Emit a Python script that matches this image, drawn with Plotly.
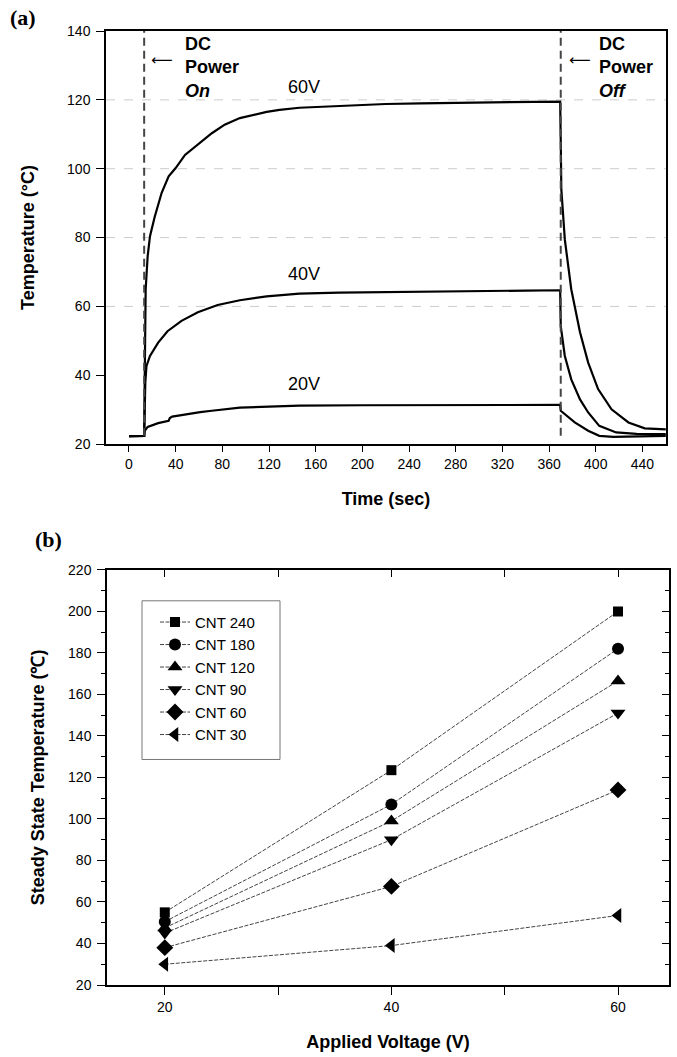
import plotly.graph_objects as go

# ---------------- Panel (a) data: temperature vs time ----------------
t_60 = [0, 5, 10, 13, 13.5, 14.3, 16, 18, 22, 28, 34, 40, 48, 60, 71, 82, 95, 118, 129, 146, 180, 220,
        250, 290, 330, 369.5, 370, 370.5, 373.5, 379, 386.5, 393.5, 402, 413.5, 428, 442, 460]
T_60 = [22.3, 22.4, 22.3, 22.4, 40, 65, 74.6, 80.4, 86, 93, 97.8, 100.2, 104, 107.4, 110.3, 112.8, 114.7,
        116.5, 117.1, 117.7, 118.3, 118.8, 119, 119.2, 119.3, 119.5, 108, 94, 79.4, 65, 52.5, 43.7, 36,
        30.1, 26.3, 24.6, 24.3]

t_40 = [0, 13, 13.5, 14, 15, 18, 25, 33, 45, 59, 76, 95, 118, 146, 180, 220, 260, 300, 340, 369.5,
        370, 373.5, 379, 386.5, 393.5, 403, 417.5, 435, 460]
T_40 = [22.3, 22.4, 30, 38, 42.7, 45.6, 49.5, 52.8, 55.8, 58.3, 60.4, 61.8, 62.9, 63.7, 64, 64.2, 64.3,
        64.4, 64.6, 64.7, 54.3, 45.6, 38.8, 33, 29.2, 25.3, 23.4, 23, 22.9]

t_20 = [0, 13, 13.5, 16, 25, 34, 35, 37, 45, 54, 61, 71, 89, 95, 120, 146, 200, 260, 320, 369.5,
        370, 373.5, 382, 393.5, 403, 415, 440, 460]
T_20 = [22.3, 22.4, 23.9, 25, 26.1, 26.8, 27.6, 28, 28.4, 29, 29.3, 29.7, 30.4, 30.6, 30.9, 31.2, 31.3,
        31.3, 31.3, 31.4, 29.7, 28.7, 26.3, 23.9, 22.4, 22.1, 22.3, 22.4]

curve_labels = ["60V", "40V", "20V"]
label_pos_t = [150, 150, 150]
label_pos_T = [123.8, 69.3, 37.4]

power_times = [13, 370]          # DC power on / off
grid_T = [60, 80, 100, 120]

# ---------------- Panel (b) data: steady state temperature ----------------
voltages = [20, 40, 60]
cnt_names = ["CNT 240", "CNT 180", "CNT 120", "CNT 90", "CNT 60", "CNT 30"]
cnt_240 = [55, 123.5, 200]
cnt_180 = [50.5, 107, 182]
cnt_120 = [47.5, 99, 166.5]
cnt_90 = [45, 90, 151]
cnt_60 = [38, 67.5, 114]
cnt_30 = [30, 39, 53.5]
cnt_values = [cnt_240, cnt_180, cnt_120, cnt_90, cnt_60, cnt_30]
symbols = ["square", "circle", "triangle-up", "triangle-down", "diamond", "triangle-left"]
symbol_sizes = [10, 12, 13, 13, 13, 13]

# ---------------- layout geometry (pixels) ----------------
W, H = 677, 1057
ML, MR, MT, MB = 106, 8, 31, 70
PW = W - ML - MR
PH = H - MT - MB


def px(x):
    return (x - ML) / PW


def py(y):
    return (H - MB - y) / PH


SANS = "Liberation Sans, Arial, sans-serif"
SERIF = "Liberation Serif, Times New Roman, serif"

fig = go.Figure()

for t, T in [(t_60, T_60), (t_40, T_40), (t_20, T_20)]:
    fig.add_trace(go.Scatter(x=t, y=T, mode="lines", line=dict(color="black", width=2.2),
                             showlegend=False, hoverinfo="skip", xaxis="x", yaxis="y"))

for name, vals, sym, sz in zip(cnt_names, cnt_values, symbols, symbol_sizes):
    fig.add_trace(go.Scatter(x=voltages, y=vals, name=name, mode="lines+markers",
                             line=dict(color="#444444", width=1, dash="4px,1.5px"),
                             marker=dict(symbol=sym, size=sz, color="black"),
                             xaxis="x2", yaxis="y2"))

# dummy trace for the mirrored (inside-tick) axes of panel b
fig.add_trace(go.Scatter(x=[None], y=[None], xaxis="x3", yaxis="y3", showlegend=False,
                         hoverinfo="skip"))

shapes = []
for v in grid_T:
    shapes.append(dict(type="line", xref="x domain", yref="y", x0=0, x1=1, y0=v, y1=v,
                       line=dict(color="#cccccc", width=1, dash="dash"), layer="below"))
for pt in power_times:
    shapes.append(dict(type="line", xref="x", yref="y", x0=pt, x1=pt, y0=22.4, y1=140,
                       line=dict(color="#444444", width=2, dash="8px,5px")))
# legend frame
shapes.append(dict(type="rect", xref="paper", yref="paper", x0=px(142), x1=px(280),
                   y0=py(761), y1=py(602), line=dict(color="#777777", width=1),
                   fillcolor="rgba(0,0,0,0)"))

annotations = []
for lab, lt, lT in zip(curve_labels, label_pos_t, label_pos_T):
    annotations.append(dict(x=lt, y=lT, xref="x", yref="y", text=lab, showarrow=False,
                            font=dict(family=SANS, size=18, color="black")))
annotations.append(dict(x=46.3, y=139.6, xref="x", yref="y", xanchor="left", yanchor="top",
                        align="left", showarrow=False,
                        text="<b>DC<br>Power<br><i>On</i></b>",
                        font=dict(family=SANS, size=18, color="black")))
annotations.append(dict(x=401, y=139.6, xref="x", yref="y", xanchor="left", yanchor="top",
                        align="left", showarrow=False,
                        text="<b>DC<br>Power<br><i>Off</i></b>",
                        font=dict(family=SANS, size=18, color="black")))
for at in [28.3, 386.5]:
    annotations.append(dict(x=at, y=131.6, xref="x", yref="y", text="\u27f5", showarrow=False,
                            font=dict(family="DejaVu Sans", size=15, color="black")))
annotations.append(dict(x=px(8), y=py(17), xref="paper", yref="paper", xanchor="left",
                        yanchor="middle", text="<b>(a)</b>", showarrow=False,
                        font=dict(family=SERIF, size=22, color="black")))
annotations.append(dict(x=px(33), y=py(541), xref="paper", yref="paper", xanchor="left",
                        yanchor="middle", text="<b>(b)</b>", showarrow=False,
                        font=dict(family=SERIF, size=22, color="black")))

tickfont = dict(family=SANS, size=14, color="black")
titlefont = dict(family=SANS, size=18, color="black")
axline = dict(showline=True, linecolor="black", linewidth=1.5, zeroline=False, showgrid=False)

fig.update_layout(
    width=W, height=H,
    margin=dict(l=ML, r=MR, t=MT, b=MB),
    paper_bgcolor="white", plot_bgcolor="white",
    font=dict(family=SANS, color="black"),
    xaxis=dict(domain=[0, px(666)], anchor="y", range=[-19.7, 460.2], tick0=0, dtick=40,
               ticks="outside", ticklen=6, tickcolor="black", mirror=True, tickfont=tickfont,
               title=dict(text="<b>Time (sec)</b>", font=titlefont, standoff=22), **axline),
    yaxis=dict(domain=[py(445), py(31)], anchor="x", range=[20, 140], tick0=20, dtick=20,
               ticks="outside", ticklen=8, tickcolor="black", mirror=True, tickfont=tickfont,
               ticklabelstandoff=3,
               title=dict(text="<b>Temperature (\u00b0C)</b>", font=titlefont, standoff=28), **axline),
    xaxis2=dict(domain=[px(107), 1], anchor="y2", range=[14.9, 64.5], tickvals=[20, 40, 60],
                ticks="outside", ticklen=8, tickcolor="black", tickfont=tickfont,
                minor=dict(tickvals=[30, 50], ticks="outside", ticklen=8, tickcolor="black"),
                title=dict(text="<b>Applied Voltage (V)</b>", font=titlefont, standoff=22), **axline),
    yaxis2=dict(domain=[0, py(571)], anchor="x2", range=[20, 220], tick0=20, dtick=20,
                ticks="outside", ticklen=8, tickcolor="black", tickfont=tickfont,
                ticklabelstandoff=3,
                minor=dict(dtick=10, ticks="outside", ticklen=4, tickcolor="black"),
                title=dict(text="<b>Steady State Temperature (\u2103)</b>", font=titlefont, standoff=19),
                **axline),
    xaxis3=dict(overlaying="x2", side="top", anchor="y2", range=[14.9, 64.5], tick0=0, dtick=10,
                ticks="inside", ticklen=7, tickcolor="black", showticklabels=False, **axline),
    yaxis3=dict(overlaying="y2", side="right", anchor="x2", range=[20, 220], tick0=20, dtick=20,
                ticks="inside", ticklen=7, tickcolor="black", showticklabels=False,
                minor=dict(dtick=10, ticks="inside", ticklen=4, tickcolor="black"), **axline),
    legend=dict(x=px(155), y=py(607), xanchor="left", yanchor="top", bgcolor="rgba(0,0,0,0)",
                borderwidth=0, font=dict(family=SANS, size=15, color="black"), tracegroupgap=0),
    shapes=shapes,
    annotations=annotations,
)

fig.write_html("out.html", config={"displayModeBar": False},
               post_script="document.body.style.margin='0';")
